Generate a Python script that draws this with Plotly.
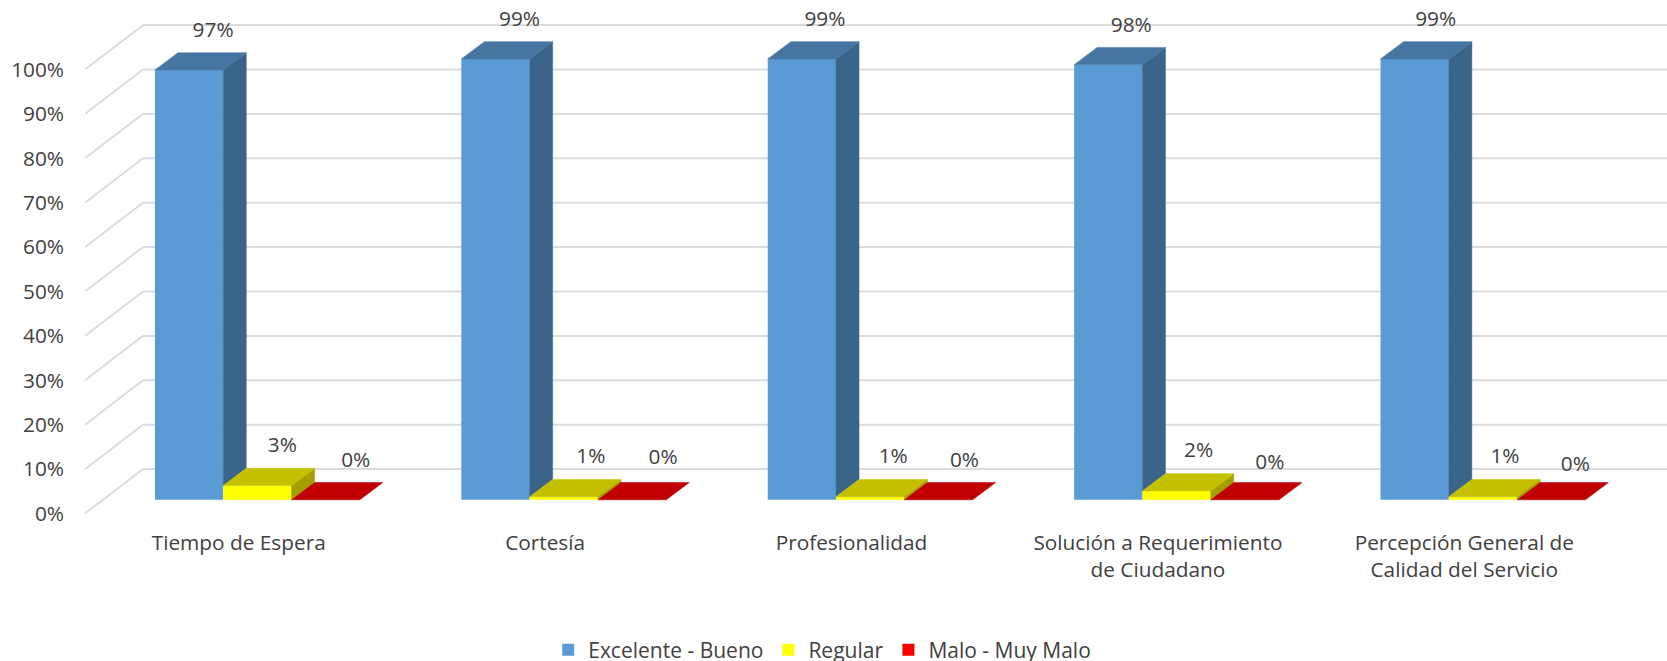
import plotly.graph_objects as go

categories = ["Tiempo de Espera", "Cortesía", "Profesionalidad",
              "Solución a Requerimiento<br>de Ciudadano",
              "Percepción General de<br>Calidad del Servicio"]
excelente = [96.8, 99.3, 99.3, 98.0, 99.3]
regular = [3.2, 0.7, 0.7, 2.0, 0.7]
malo = [0, 0, 0, 0, 0]
series_names = ["Excelente - Bueno", "Regular", "Malo - Muy Malo"]
y_ticks = list(range(0, 101, 10))

# styling
front_colors = ["#5B9BD5", "#FFFF00", "#FF0000"]
top_colors = ["#4675A1", "#C4C000", "#C00000"]
side_colors = ["#3A6589", "#A5A000", "#A00000"]
grid_color = "#DCDCDC"
text_color = "#404040"
FONT = "Open Sans"
FS = 20.8

W, H = 1667, 680
PLOT_H = 520
ML, MB = 85, H - PLOT_H
GROUP_PX, Y_PX = 306.4, 4.44
x_of_px = lambda px: (px - 238.7) / GROUP_PX
x_range = [x_of_px(ML), x_of_px(W)]
y0_px = 513.5
y_range = [-(PLOT_H - y0_px) / Y_PX, y0_px / Y_PX]
bar_w = 68.3 / GROUP_PX
group_shift = 18.7 / GROUP_PX
base = 3.08
dx, dy = 23 / GROUP_PX, 17.3 / Y_PX
wall_dx, wall_dy = 58 / GROUP_PX, 10

# fine placement of value labels (pixels from bar centre / back of top)
label_dx = [[24, 24, 23, 23, 21], [25, 27, 23, 22, 22], [30, 31, 26, 25, 24]]
label_dy = [[21, 21, 21, 21, 21], [22, 22, 22, 22, 22], [21, 24, 21, 19, 17]]

all_series = [excelente, regular, malo]
fig = go.Figure()

# value-axis gridlines on the side and back walls
shapes = []
for t in y_ticks:
    line = dict(color=grid_color, width=2)
    shapes.append(dict(type="line", layer="below", xref="x", yref="y",
                       x0=x_range[0], y0=t, x1=x_range[0] + wall_dx, y1=t + wall_dy, line=line))
    shapes.append(dict(type="line", layer="below", xref="x", yref="y",
                       x0=x_range[0] + wall_dx, y0=t + wall_dy, x1=x_range[1], y1=t + wall_dy, line=line))

# front faces
for k, vals in enumerate(all_series):
    fig.add_trace(go.Bar(
        x=[i + group_shift + (k - 1) * bar_w for i in range(len(vals))],
        y=vals, base=base, width=bar_w, name=series_names[k],
        marker=dict(color=front_colors[k], line=dict(width=0))))

# top and side faces
def poly(xs, ys, color):
    fig.add_trace(go.Scatter(x=xs + xs[:1], y=ys + ys[:1], mode="lines", fill="toself",
                             fillcolor=color, line=dict(color=color, width=0.5),
                             hoverinfo="skip", showlegend=False))

for k, vals in enumerate(all_series):
    for i, v in enumerate(vals):
        xl = i + group_shift + (k - 1) * bar_w - bar_w / 2
        xr = xl + bar_w
        top = base + v
        nxt = all_series[k + 1][i] if k < 2 else 0
        low = base + nxt
        if v > 0:
            poly([xr, xr + dx, xr + dx, xr], [low, low + dy, top + dy, top], side_colors[k])
        poly([xl, xl + dx, xr + dx, xr], [top, top + dy, top + dy, top], top_colors[k])

# value labels
for k, vals in enumerate(all_series):
    lx = [i + group_shift + (k - 1) * bar_w + label_dx[k][i] / GROUP_PX for i in range(len(vals))]
    ly = [base + v + dy + label_dy[k][i] / Y_PX for i, v in enumerate(vals)]
    fig.add_trace(go.Scatter(x=lx, y=ly, mode="text", cliponaxis=False,
                             text=[f"{round(v)}%" for v in vals],
                             textposition="middle center",
                             textfont=dict(family=FONT, size=FS, color=text_color),
                             hoverinfo="skip", showlegend=False))

fig.update_layout(
    width=W, height=H, autosize=False,
    margin=dict(l=ML, r=0, t=0, b=MB, pad=0),
    paper_bgcolor="white", plot_bgcolor="white",
    barmode="overlay", shapes=shapes,
    font=dict(family=FONT, size=FS, color=text_color),
    xaxis=dict(range=x_range, tickvals=list(range(len(categories))), ticktext=categories,
               showgrid=False, zeroline=False, showline=False, ticks="",
               ticklabelstandoff=8, tickfont=dict(family=FONT, size=FS, color=text_color)),
    yaxis=dict(range=y_range, tickvals=y_ticks, ticktext=[f"{t}%" for t in y_ticks],
               showgrid=False, zeroline=False, showline=False, ticks="",
               ticklabelstandoff=20, tickfont=dict(family=FONT, size=FS, color=text_color)),
    legend=dict(orientation="h", x=0.466, xanchor="center", y=(PLOT_H - 650) / PLOT_H, yanchor="middle",
                font=dict(family=FONT, size=21, color=text_color), itemclick=False, bgcolor="rgba(0,0,0,0)"),
)
fig.write_html("out.html", config={"displayModeBar": False},
               post_script="document.body.style.margin='0';document.body.style.overflow='hidden';")
